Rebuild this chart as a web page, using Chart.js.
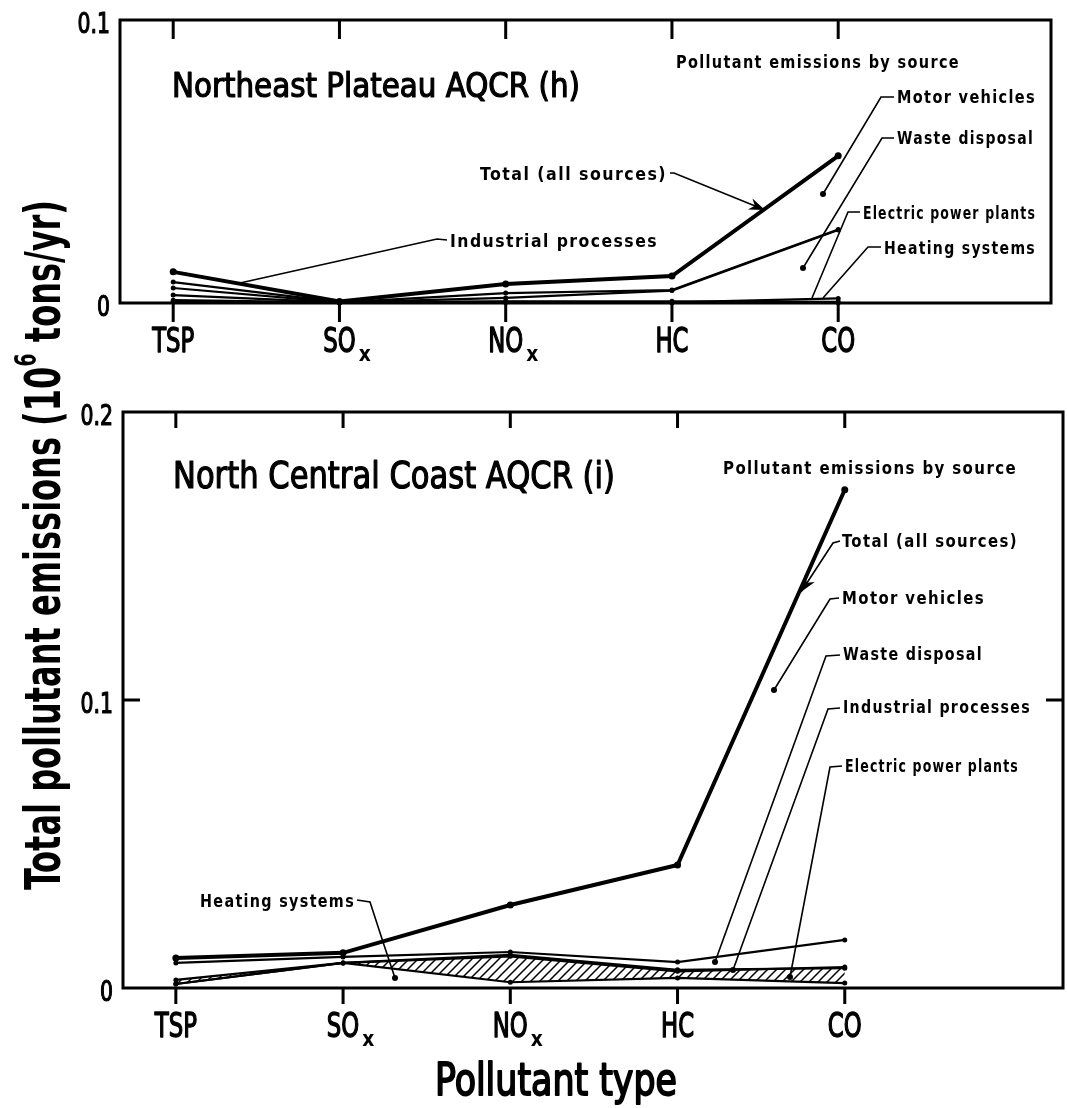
<!DOCTYPE html>
<html>
<head>
<meta charset="utf-8">
<script src="https://cdn.jsdelivr.net/npm/chart.js"></script>
<style>
  body { margin: 0; background: #fff; width: 1067px; height: 1108px; position: relative; overflow: hidden; }
  canvas { position: absolute; left: 0; top: 0; }
  #bottom { width: 1067px; height: 1108px; }
  #top { width: 1067px; height: 380px; }
</style>
</head>
<body>
<canvas id="bottom" width="1067" height="1108"></canvas>
<canvas id="top" width="1067" height="380"></canvas>
<script>
// pollutant categories (x axis), "_" marks a subscript
const pollutantLabels = ['TSP', 'SO_x', 'NO_x', 'HC', 'CO'];

// Northeast Plateau AQCR (h), 10^6 tons/yr
const neTicks      = [0, 0.1];
const neTotal      = [0.0110, 0.0005, 0.0067, 0.0095, 0.0520];
const neMotor      = [0.0028, 0.0002, 0.0035, 0.0046, 0.0260];
const neWaste      = [0.0053, 0.0002, 0.0018, 0.0044, 0.0258];
const neIndustrial = [0.0074, 0.0003, 0.0006, 0.0006, 0.0004];
const neElectric   = [0.0004, 0.0001, 0.0002, 0.0001, 0.0001];
const neHeating    = [0.0010, 0.0002, 0.0004, 0.0002, 0.0016];

// North Central Coast AQCR (i), 10^6 tons/yr
const ncTicks      = [0, 0.1, 0.2];
const ncTotal      = [0.0104, 0.0122, 0.0288, 0.0427, 0.1730];
const ncWaste      = [0.0087, 0.0108, 0.0125, 0.0090, 0.0167];
const ncIndustrial = [0.0028, 0.0087, 0.0115, 0.0063, 0.0069];
const ncElectric   = [0.0014, 0.0087, 0.0110, 0.0058, 0.0073];
const ncHeating    = [0.0014, 0.0087, 0.0020, 0.0035, 0.0017];

const FONT = "'DejaVu Sans Condensed', 'DejaVu Sans', sans-serif";

function put(ctx, s, x, y, o) {
  ctx.save();
  ctx.font = (o.bold ? 'bold ' : '') + o.size + 'px ' + FONT;
  ctx.letterSpacing = (o.spacing || 0) + 'px';
  const w = ctx.measureText(s).width;
  const sx = o.width ? o.width / w : (o.sx || 1);
  ctx.translate(x, y);
  ctx.scale(sx, 1);
  ctx.textAlign = 'left';
  ctx.textBaseline = 'alphabetic';
  ctx.fillStyle = '#000';
  const dx = o.align === 'center' ? -w / 2 : o.align === 'right' ? -w : 0;
  ctx.fillText(s, dx, 0);
  if (o.heavy) {
    ctx.lineWidth = o.heavy;
    ctx.lineJoin = 'round';
    ctx.strokeStyle = '#000';
    ctx.strokeText(s, dx, 0);
  }
  ctx.restore();
  return w * sx;
}

// horizontal squeeze so that a "0" comes out w px wide
function cond(ctx, size, w, bold) {
  ctx.save();
  ctx.font = (bold ? 'bold ' : '') + size + 'px ' + FONT;
  const m = ctx.measureText('0').width;
  ctx.restore();
  return w / m;
}

function hatch() {
  const c = document.createElement('canvas');
  c.width = c.height = 9;
  const g = c.getContext('2d');
  g.strokeStyle = '#000';
  g.lineWidth = 1.5;
  g.beginPath();
  g.moveTo(0, 9); g.lineTo(9, 0);
  g.moveTo(-4.5, 4.5); g.lineTo(4.5, -4.5);
  g.moveTo(4.5, 13.5); g.lineTo(13.5, 4.5);
  g.stroke();
  return g.createPattern(c, 'repeat');
}

function drawLeader(ctx, l) {
  const p = l.pts;
  ctx.beginPath();
  ctx.moveTo(p[0][0], p[0][1]);
  for (let i = 1; i < p.length; i++) ctx.lineTo(p[i][0], p[i][1]);
  ctx.lineWidth = 1.6;
  ctx.stroke();
  const [x1, y1] = p[p.length - 2], [x2, y2] = p[p.length - 1];
  if (l.end === 'dot') {
    ctx.beginPath(); ctx.arc(x2, y2, 3, 0, Math.PI * 2); ctx.fill();
  } else if (l.end === 'arrow') {
    const a = Math.atan2(y2 - y1, x2 - x1);
    ctx.beginPath();
    ctx.moveTo(x2, y2);
    ctx.lineTo(x2 - 16 * Math.cos(a) + 6 * Math.sin(a), y2 - 16 * Math.sin(a) - 6 * Math.cos(a));
    ctx.lineTo(x2 - 11 * Math.cos(a), y2 - 11 * Math.sin(a));
    ctx.lineTo(x2 - 16 * Math.cos(a) - 6 * Math.sin(a), y2 - 16 * Math.sin(a) + 6 * Math.cos(a));
    ctx.closePath(); ctx.fill();
  }
}

const frame = {
  id: 'frame',
  afterDatasetsDraw(chart, args, o) {
    const { ctx, chartArea: a, scales: { x, y } } = chart;
    ctx.save();
    ctx.strokeStyle = '#000';
    ctx.fillStyle = '#000';
    ctx.lineWidth = 3;
    ctx.strokeRect(a.left, a.top, a.right - a.left, a.bottom - a.top);

    const sxLab = cond(ctx, 34, 14.5);
    const sxSub = cond(ctx, 22, 13, true);
    pollutantLabels.forEach((lab, i) => {
      const px = x.getPixelForValue(i);
      ctx.lineWidth = 3;
      ctx.beginPath();
      ctx.moveTo(px, a.top); ctx.lineTo(px, a.top + o.tick);
      ctx.moveTo(px, a.bottom); ctx.lineTo(px, a.bottom + o.tick);
      ctx.stroke();
      const [main, sub] = lab.split('_');
      const base = a.bottom + 49;
      const w = put(ctx, main, px, base, { size: 34, sx: sxLab, align: 'center', heavy: 1.4 });
      if (sub) put(ctx, sub, px + w / 2 + 3, base + 9, { size: 22, bold: true, sx: sxSub });
    });

    const sxNum = cond(ctx, 29, 13);
    o.yTicks.forEach(v => {
      const py = y.getPixelForValue(v);
      put(ctx, String(v), a.left - 10, py + 13, { size: 29, sx: sxNum, align: 'right', heavy: 1.2 });
      if (v > 0 && v < y.max) {
        ctx.lineWidth = 3;
        ctx.beginPath();
        ctx.moveTo(a.left, py); ctx.lineTo(a.left + 17, py);
        ctx.moveTo(a.right, py); ctx.lineTo(a.right - 17, py);
        ctx.stroke();
      }
    });

    o.notes.forEach(n => put(ctx, n.text, n.x, n.y, {
      size: n.size || 18, bold: n.bold !== false, width: n.w,
      spacing: n.size ? 0 : 1.5, heavy: n.size ? 1.2 : 0
    }));
    o.leaders.forEach(l => drawLeader(ctx, l));

    if (o.axisTitles) {
      // y title, reads bottom to top
      const parts = [['Total pollutant emissions (10', 50, 0], ['6', 30, -24], [' tons/yr)', 50, 0]];
      const ws = parts.map(([t, s]) => { ctx.font = 'bold ' + s + 'px ' + FONT; return ctx.measureText(t).width; });
      const sx = 690 / ws.reduce((p, q) => p + q, 0);
      ctx.save();
      ctx.translate(60, 890);
      ctx.rotate(-Math.PI / 2);
      ctx.scale(sx, 1);
      ctx.textBaseline = 'alphabetic';
      let cx = 0;
      parts.forEach(([t, s, dy], i) => {
        ctx.font = 'bold ' + s + 'px ' + FONT;
        ctx.fillText(t, cx, dy);
        cx += ws[i];
      });
      ctx.restore();
      put(ctx, 'Pollutant type', 435, 1095, { size: 45, width: 242, heavy: 1.8 });
    }
    ctx.restore();
  }
};

function series(label, values, width, extra) {
  return Object.assign({
    label,
    data: values.map((v, i) => ({ x: i, y: v })),
    borderColor: '#000',
    backgroundColor: '#000',
    borderWidth: width,
    pointRadius: width > 3 ? 3.5 : 2.5,
    pointBackgroundColor: '#000',
    pointBorderWidth: 0,
    fill: false,
    clip: false,
    tension: 0
  }, extra || {});
}

function panel(id, datasets, xMin, xMax, yMax, padding, frameOpts) {
  return new Chart(document.getElementById(id), {
    type: 'line',
    data: { datasets },
    options: {
      responsive: false,
      animation: false,
      layout: { padding },
      scales: {
        x: { type: 'linear', display: false, min: xMin, max: xMax },
        y: { type: 'linear', display: false, min: 0, max: yMax }
      },
      plugins: { legend: { display: false }, tooltip: { enabled: false }, frame: frameOpts }
    },
    plugins: [frame]
  });
}

panel('bottom', [
  series('Total (all sources)', ncTotal, 4),
  series('Waste disposal', ncWaste, 2.2),
  series('Industrial processes', ncIndustrial, 2.2),
  series('Electric power plants', ncElectric, 2.2),
  series('Heating systems', ncHeating, 2.2, { fill: { target: 2 }, backgroundColor: hatch() })
], -0.316, 5.305, 0.2, { left: 123, right: 1, top: 412, bottom: 120 }, {
  tick: 16,
  yTicks: ncTicks,
  axisTitles: true,
  notes: [
    { text: 'North Central Coast AQCR (i)', x: 173, y: 488, size: 38, w: 442, bold: false },
    { text: 'Pollutant emissions by source', x: 723, y: 474, w: 294 },
    { text: 'Total (all sources)', x: 842, y: 547, w: 176 },
    { text: 'Motor vehicles', x: 842, y: 604, w: 143 },
    { text: 'Waste disposal', x: 843, y: 660, w: 140 },
    { text: 'Industrial processes', x: 843, y: 713, w: 188 },
    { text: 'Electric power plants', x: 845, y: 772, w: 174 },
    { text: 'Heating systems', x: 200, y: 907, w: 155 }
  ],
  leaders: [
    { pts: [[840, 541], [833, 543], [801, 592]], end: 'arrow' },
    { pts: [[839, 598], [830, 599], [774, 690]], end: 'dot' },
    { pts: [[840, 655], [826, 656], [715, 962]], end: 'dot' },
    { pts: [[840, 708], [828, 709], [733, 970]], end: 'dot' },
    { pts: [[842, 766], [830, 767], [790, 977]], end: 'dot' },
    { pts: [[357, 900], [370, 902], [384, 945], [395, 978]], end: 'dot' }
  ]
});

panel('top', [
  series('Total (all sources)', neTotal, 4),
  series('Motor vehicles', neMotor, 2.2),
  series('Waste disposal', neWaste, 2.2),
  series('Industrial processes', neIndustrial, 2.2),
  series('Electric power plants', neElectric, 2.2),
  series('Heating systems', neHeating, 2.2)
], -0.32, 5.28, 0.1, { left: 120, right: 16, top: 20, bottom: 77 }, {
  tick: 19,
  yTicks: neTicks,
  notes: [
    { text: 'Northeast Plateau AQCR (h)', x: 172, y: 97, size: 34, w: 408, bold: false },
    { text: 'Pollutant emissions by source', x: 676, y: 68, w: 284 },
    { text: 'Motor vehicles', x: 897, y: 103, w: 139 },
    { text: 'Waste disposal', x: 897, y: 144, w: 137 },
    { text: 'Total (all sources)', x: 480, y: 180, w: 187 },
    { text: 'Electric power plants', x: 863, y: 219, w: 173 },
    { text: 'Industrial processes', x: 450, y: 247, w: 208 },
    { text: 'Heating systems', x: 884, y: 254, w: 152 }
  ],
  leaders: [
    { pts: [[447, 240], [437, 239], [240, 283]] },
    { pts: [[670, 173], [674, 173], [765, 210]], end: 'arrow' },
    { pts: [[894, 97], [881, 97], [823, 194]], end: 'dot' },
    { pts: [[894, 138], [882, 138], [803, 268]], end: 'dot' },
    { pts: [[860, 212], [848, 212], [812, 298]] },
    { pts: [[881, 247], [868, 247], [823, 298]] }
  ]
});
</script>
</body>
</html>
